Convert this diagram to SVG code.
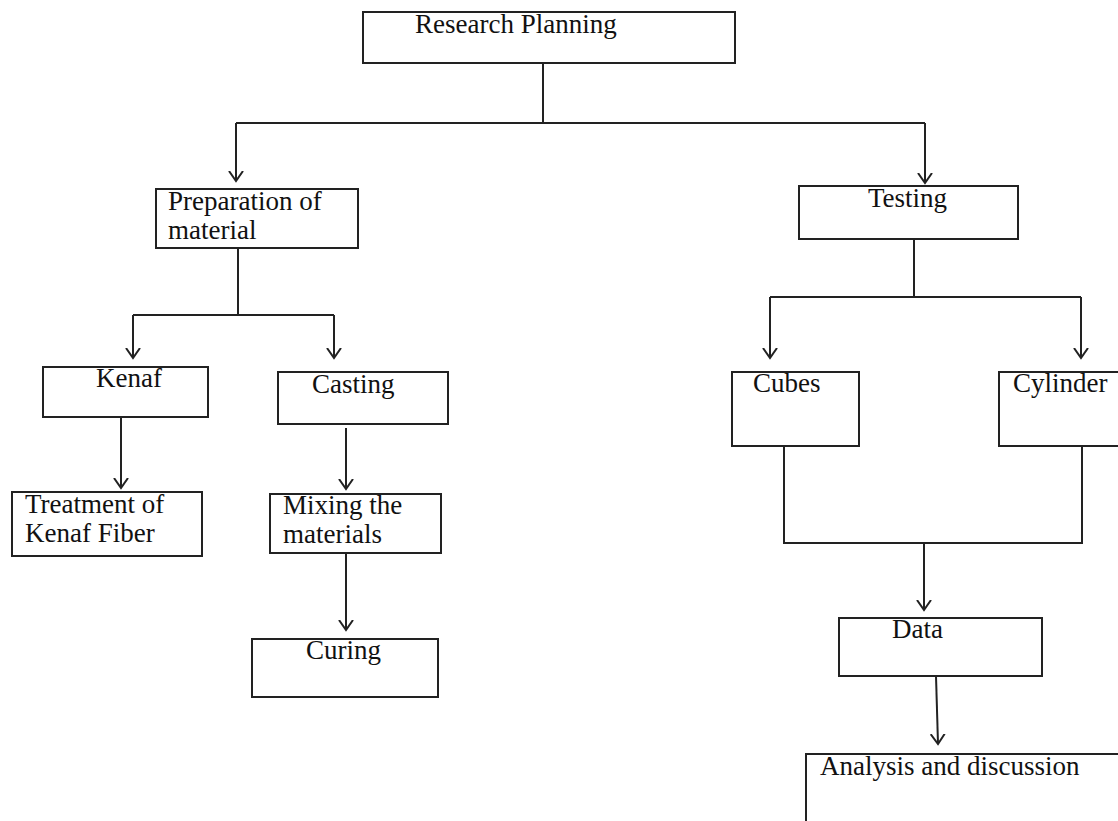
<svg xmlns="http://www.w3.org/2000/svg" width="1118" height="821" viewBox="0 0 1118 821">
<defs>
<style>
.box{fill:#fff;stroke:#222;stroke-width:2}
.t{font-family:"Liberation Serif","Times New Roman",serif;font-size:27px;fill:#111}
.c{fill:none;stroke:#222;stroke-width:2}
.a{marker-end:url(#arr)}
</style>
<marker id="arr" markerUnits="userSpaceOnUse" markerWidth="20" markerHeight="20" viewBox="-10 -10 20 20" refX="0" refY="0" orient="auto">
<path d="M-10,-7 L0,0 L-10,7" fill="none" stroke="#222" stroke-width="2"/>
</marker>
</defs>
<rect width="1118" height="821" fill="#fff"/>
<g id="connectors">
<path class="c" d="M543,63 V123 M236,123 H925"/>
<path class="c a" d="M236,123 V181"/>
<path class="c a" d="M925,123 V183"/>
<path class="c" d="M238,248 V315 M133,315 H334"/>
<path class="c a" d="M133,315 V358"/>
<path class="c a" d="M334,315 V358"/>
<path class="c" d="M914,239 V297 M770,297 H1081"/>
<path class="c a" d="M770,297 V358"/>
<path class="c a" d="M1081,297 V358"/>
<path class="c a" d="M121,417 V488"/>
<path class="c a" d="M346,428 V489"/>
<path class="c a" d="M346,553 V630"/>
<path class="c" d="M784,446 V543 H1082 V446"/>
<path class="c a" d="M924,543 V610"/>
<path class="c a" d="M936,676 L938,744"/>
</g>
<g id="research-planning"><rect class="box" x="363" y="12" width="372" height="51"/><text class="t" x="415" y="33">Research Planning</text></g>
<g id="preparation"><rect class="box" x="156" y="189" width="202" height="59"/><text class="t" x="168" y="210">Preparation of</text><text class="t" x="168" y="239">material</text></g>
<g id="testing"><rect class="box" x="799" y="186" width="219" height="53"/><text class="t" x="868" y="207">Testing</text></g>
<g id="kenaf"><rect class="box" x="43" y="367" width="165" height="50"/><text class="t" x="96" y="387">Kenaf</text></g>
<g id="casting"><rect class="box" x="278" y="372" width="170" height="52"/><text class="t" x="312" y="393">Casting</text></g>
<g id="treatment"><rect class="box" x="12" y="492" width="190" height="64"/><text class="t" x="25" y="513">Treatment of</text><text class="t" x="25" y="542">Kenaf Fiber</text></g>
<g id="mixing"><rect class="box" x="270" y="494" width="171" height="59"/><text class="t" x="283" y="514">Mixing the</text><text class="t" x="283" y="543">materials</text></g>
<g id="curing"><rect class="box" x="252" y="639" width="186" height="58"/><text class="t" x="306" y="659">Curing</text></g>
<g id="cubes"><rect class="box" x="732" y="372" width="127" height="74"/><text class="t" x="753" y="392">Cubes</text></g>
<g id="cylinder"><rect class="box" x="999" y="372" width="130" height="74"/><text class="t" x="1013" y="392">Cylinder</text></g>
<g id="data"><rect class="box" x="839" y="618" width="203" height="58"/><text class="t" x="892" y="638">Data</text></g>
<g id="analysis"><rect class="box" x="806" y="754" width="330" height="90"/><text class="t" x="820" y="775">Analysis and discussion</text></g>
</svg>
